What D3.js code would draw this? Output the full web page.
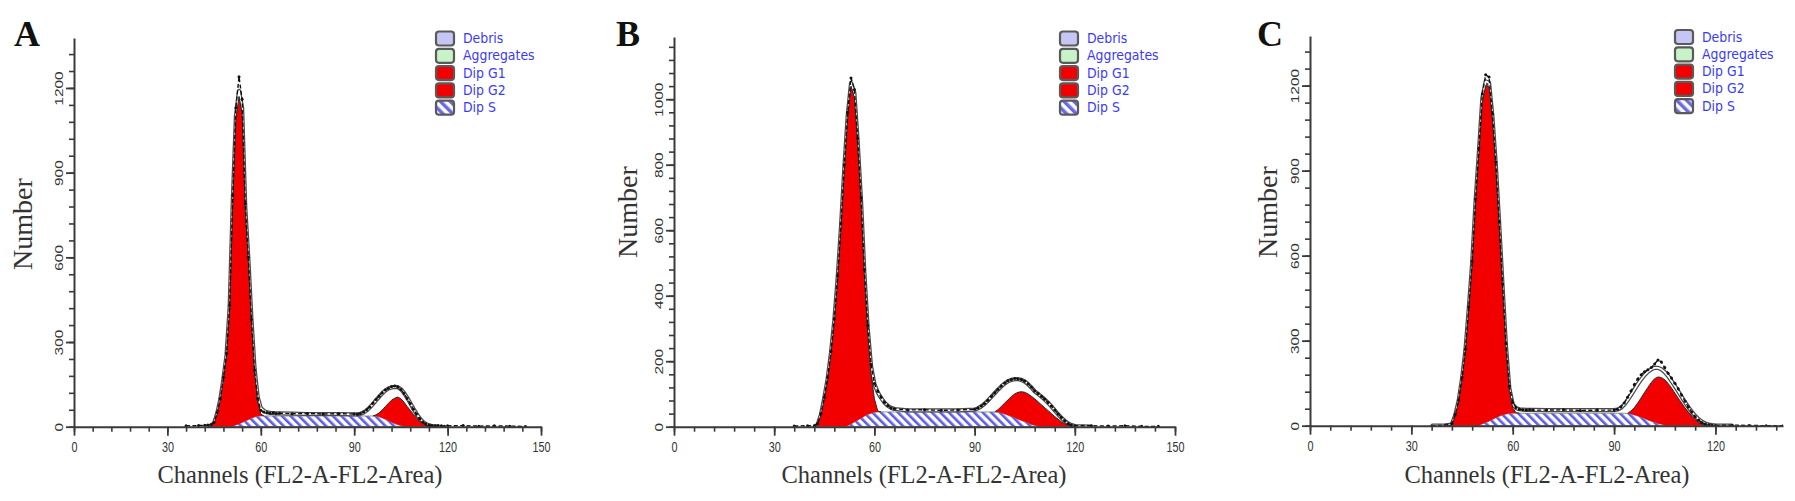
<!DOCTYPE html>
<html><head><meta charset="utf-8">
<script src="https://cdn.jsdelivr.net/npm/d3@7"></script>
<style>body{margin:0;background:#fff}svg{display:block}</style>
</head><body>
<svg id="c" width="1795" height="501"></svg>
<script>
// ---------------- DATA ----------------
const channels = [36,40,42,43,44,45,46,47,48,49,
 50,51,52,53,54,55,56,57,58,59,
 60,61,62,63,64,65,66,70,75,80,
 85,90,91,92,93,94,95,96,97,98,
 99,100,101,102,103,104,105,106,107,108,
 109,110,111,112,113,114,115,116,117,118,
 119,120,125,130,135,140,145];

const panelLetters = ["A","B","C"];
const legendLabels = ["Debris","Aggregates","Dip G1","Dip G2","Dip S"];
const xTickLabelsAB = [0,30,60,90,120,150];
const xTickLabelsC = [0,30,60,90,120];
const yTickLabelsA = [0,300,600,900,1200];
const yTickLabelsB = [0,200,400,600,800,1000];
const yTickLabelsC = [0,300,600,900,1200];
const xAxisTitle = "Channels (FL2-A-FL2-Area)";
const yAxisTitle = "Number";

// Panel A
const dataA = [3,4,5,6,8,15,50,100,175,260,
 430,820,1130,1240,1160,790,600,380,200,100,
 58,52,50,48,49,47,48,46,47,45,
 46,45,44,47,52,60,70,83,96,108,
 120,130,136,142,144,141,132,118,100,82,
 62,45,29,17,10,6,4,3,4,3,
 2,3,4,2,3,2,1];
const fitA = [0,0,0,0,3,13,47,97,170,255,
 425,800,1100,1190,1130,780,595,380,205,105,
 66,56,51,49,48,47,47,46,45,45,
 45,44,44,46,50,58,68,80,93,106,
 118,128,135,139,141,140,133,120,103,84,
 64,46,30,18,10,5,2,1,0,0,
 0,0,0,0,0,0,0];
const sA = [0,0,0,0,0,0,0,0,0,0,
 0,2,6,10,15,20,25,30,34,37,
 38,38,38,38,38,38,38,38,38,38,
 38,38,38,38,38,38,38,38,37,35,
 31,26,21,16,11,7,4,2,0,0,
 0,0,0,0,0,0,0,0,0,0,
 0,0,0,0,0,0,0];
const g1A = [0,0,0,0,3,12,45,95,168,250,
 415,788,1084,1160,1095,750,560,340,158,53,
 7,0,0,0,0,0,0,0,0,0,
 0,0,0,0,0,0,0,0,0,0,
 0,0,0,0,0,0,0,0,0,0,
 0,0,0,0,0,0,0,0,0,0,
 0,0,0,0,0,0,0];
const g2A = [0,0,0,0,0,0,0,0,0,0,
 0,0,0,0,0,0,0,0,0,0,
 0,0,0,0,0,0,0,0,0,0,
 0,0,0,0,0,0,0,0,5,14,
 28,45,62,78,90,98,95,85,72,58,
 44,31,20,12,6,3,1,0,0,0,
 0,0,0,0,0,0,0];

// Panel B
const dataB = [2,3,3,10,40,90,150,230,330,460,
 620,800,960,1065,1030,880,700,480,310,190,
 132,108,90,75,65,57,55,51,52,50,
 51,53,57,63,71,81,92,103,114,124,
 133,140,144,147,146,144,139,131,121,109,
 101,93,84,74,63,51,39,28,18,10,
 5,3,3,2,3,1,1];
const fitB = [0,0,0,6,37,88,147,226,325,455,
 612,790,950,1050,1020,870,690,470,300,185,
 130,105,88,74,64,58,54,50,50,50,
 50,52,56,62,70,80,91,102,113,123,
 132,139,143,145,145,143,138,130,120,108,
 100,92,83,73,62,50,38,27,18,10,
 5,2,0,0,0,0,0];
const sB = [0,0,0,0,0,0,0,0,0,0,
 0,0,3,8,14,20,26,32,37,41,
 44,45,45,45,45,45,45,45,45,45,
 45,45,45,45,45,45,45,45,44,42,
 39,35,31,27,23,19,15,11,7,4,
 2,0,0,0,0,0,0,0,0,0,
 0,0,0,0,0,0,0];
const g1B = [0,0,0,5,35,85,143,222,320,448,
 605,780,937,1032,991,840,654,428,248,119,
 41,3,0,0,0,0,0,0,0,0,
 0,0,0,0,0,0,0,0,0,0,
 0,0,0,0,0,0,0,0,0,0,
 0,0,0,0,0,0,0,0,0,0,
 0,0,0,0,0,0,0];
const g2B = [0,0,0,0,0,0,0,0,0,0,
 0,0,0,0,0,0,0,0,0,0,
 0,0,0,0,0,0,0,0,0,0,
 0,0,0,0,0,0,0,0,8,20,
 33,47,61,73,82,88,90,89,86,81,
 74,67,58,49,40,31,23,15,9,4,
 1,0,0,0,0,0,0];

// Panel C
const dataC = [0,1,8,40,90,170,270,420,580,800,
 980,1170,1238,1230,1100,930,720,500,290,140,
 82,64,58,56,55,56,55,55,56,54,
 55,55,58,66,80,100,122,145,165,180,
 190,197,205,218,232,225,205,185,168,150,
 130,108,86,66,48,32,20,11,6,3,
 2,1,2,1,0,0,0];
const fitC = [0,1,4,38,88,166,266,415,575,792,
 968,1155,1215,1210,1090,920,712,492,282,132,
 75,62,58,57,56,56,56,55,55,55,
 55,55,57,63,74,90,108,127,146,163,
 178,190,199,204,204,199,189,175,158,140,
 121,102,83,65,49,35,23,14,8,4,
 2,1,0,0,0,0,0];
const sC = [0,0,0,0,0,0,0,0,0,0,
 2,6,11,16,22,28,33,38,41,43,
 44,44,44,44,44,44,44,44,44,44,
 44,44,44,44,44,43,41,38,34,30,
 25,20,16,12,8,5,2,0,0,0,
 0,0,0,0,0,0,0,0,0,0,
 0,0,0,0,0,0,0];
const g1C = [0,0,3,35,85,162,262,410,570,785,
 958,1134,1189,1179,1058,882,672,447,234,82,
 18,2,0,0,0,0,0,0,0,0,
 0,0,0,0,0,0,0,0,0,0,
 0,0,0,0,0,0,0,0,0,0,
 0,0,0,0,0,0,0,0,0,0,
 0,0,0,0,0,0,0];
const g2C = [0,0,0,0,0,0,0,0,0,0,
 0,0,0,0,0,0,0,0,0,0,
 0,0,0,0,0,0,0,0,0,0,
 0,0,0,0,0,0,11,26,46,68,
 92,115,136,154,164,165,160,149,133,115,
 97,80,63,48,34,22,12,5,1,0,
 0,0,0,0,0,0,0];

// ---------------- LAYOUT ----------------
const layout = [
 {letter:panelLetters[0], data:dataA, fit:fitA, s:sA, g1:g1A, g2:g2A, xTicks:xTickLabelsAB, yTicks:yTickLabelsA,
  xDomain:[0,150], xRange:[74,541], yDomain:[0,1377], yRange:[426.7,38], xMinor:6, yMinor:60,
  letterX:14, numberX:32, numberY:224, titleX:300, legendX:436, legendY:38.5},
 {letter:panelLetters[1], data:dataB, fit:fitB, s:sB, g1:g1B, g2:g2B, xTicks:xTickLabelsAB, yTicks:yTickLabelsB,
  xDomain:[0,150], xRange:[674,1175], yDomain:[0,1190], yRange:[426.7,37], xMinor:6, yMinor:40,
  letterX:616, numberX:637, numberY:212, titleX:924, legendX:1060, legendY:38.5},
 {letter:panelLetters[2], data:dataC, fit:fitC, s:sC, g1:g1C, g2:g2C, xTicks:xTickLabelsC, yTicks:yTickLabelsC,
  xDomain:[0,140], xRange:[1310,1783], yDomain:[0,1375], yRange:[425.7,36], xMinor:6, yMinor:60,
  letterX:1257, numberX:1277, numberY:212, titleX:1547, legendX:1675, legendY:37}
];

const svg = d3.select("#c");
svg.append("rect").attr("width",1795).attr("height",501).attr("fill","#fff");
const defs = svg.append("defs");
const pat = defs.append("pattern").attr("id","hatch").attr("patternUnits","userSpaceOnUse")
  .attr("width",6).attr("height",6).attr("patternTransform","rotate(-45)");
pat.append("rect").attr("width",6).attr("height",6).attr("fill","#fff");
pat.append("rect").attr("width",2.6).attr("height",6).attr("fill","#5c5cec");
const pat2 = defs.append("pattern").attr("id","hatchL").attr("patternUnits","userSpaceOnUse")
  .attr("width",7).attr("height",7).attr("patternTransform","rotate(-45)");
pat2.append("rect").attr("width",7).attr("height",7).attr("fill","#fff");
pat2.append("rect").attr("width",3.5).attr("height",7).attr("fill","#6a6ae6");

const AX = "#3a3a3a";
const STRETCH = 1.43;

layout.forEach((p, pi) => {
  const g = svg.append("g");
  const x = d3.scaleLinear().domain(p.xDomain).range(p.xRange);
  const y = d3.scaleLinear().domain(p.yDomain).range(p.yRange);
  const pts = channels.map((c,i)=>({c, d:p.data[i], f:p.fit[i], s:p.s[i], g1:p.g1[i], g2:p.g2[i]}));

  const clipId = "clip"+pi;
  defs.append("clipPath").attr("id",clipId).append("rect")
    .attr("x",p.xRange[0]).attr("y",p.yRange[1]-5)
    .attr("width",p.xRange[1]-p.xRange[0]).attr("height",p.yRange[0]-p.yRange[1]+6);
  const plot = g.append("g").attr("clip-path",`url(#${clipId})`);

  // S phase hatched area
  const sPts = pts.filter((d,i)=> d.s>0 || (pts[i-1]&&pts[i-1].s>0) || (pts[i+1]&&pts[i+1].s>0));
  plot.append("path").datum(sPts)
    .attr("d", d3.area().x(d=>x(d.c)).y0(y(0)).y1(d=>y(d.s)))
    .attr("fill","url(#hatch)").attr("stroke","#777").attr("stroke-width",0.8);

  // fit (double line)
  const fitPts = pts.filter((d,i)=> d.f>0 || (pts[i-1]&&pts[i-1].f>0) || (pts[i+1]&&pts[i+1].f>0));
  const fitLine = d3.line().x(d=>x(d.c)).y(d=>y(d.f));
  plot.append("path").datum(fitPts).attr("d",fitLine).attr("fill","none")
    .attr("stroke","#4a4a4a").attr("stroke-width",4.2).attr("stroke-linejoin","round");
  plot.append("path").datum(fitPts).attr("d",fitLine).attr("fill","none")
    .attr("stroke","#fff").attr("stroke-width",1.7).attr("stroke-linejoin","round");

  // G1 and G2 red areas stacked on S
  ["g1","g2"].forEach(k=>{
    const sub = pts.filter((d,i)=> d[k]>0 || (pts[i-1]&&pts[i-1][k]>0) || (pts[i+1]&&pts[i+1][k]>0));
    plot.append("path").datum(sub)
      .attr("d", d3.area().x(d=>x(d.c)).y0(d=>y(d.s)).y1(d=>y(d.s+d[k])))
      .attr("fill","#f20000");
    plot.append("path").datum(sub)
      .attr("d", d3.line().x(d=>x(d.c)).y(d=>y(d.s+d[k])))
      .attr("fill","none").attr("stroke","#2a2a2a").attr("stroke-width",1);
  });

  // raw data
  plot.append("path").datum(pts)
    .attr("d", d3.line().x(d=>x(d.c)).y(d=>y(d.d)))
    .attr("fill","none").attr("stroke","#111").attr("stroke-width",1.4)
    .attr("stroke-dasharray","4,2.4");
  plot.selectAll("circle.pt").data(pts).enter().append("circle")
    .attr("cx",d=>x(d.c)).attr("cy",d=>y(d.d)).attr("r",1.5).attr("fill","#111");

  // axes: minor ticks
  const xMinorVals = d3.range(0, p.xDomain[1]+0.001, p.xMinor);
  const yMinorVals = d3.range(0, p.yDomain[1], p.yMinor);
  g.append("g").attr("transform",`translate(0,${p.yRange[0]})`)
    .call(d3.axisBottom(x).tickValues(xMinorVals).tickSize(5).tickSizeOuter(0).tickFormat(""))
    .call(a=>a.select(".domain").remove())
    .call(a=>a.selectAll("line").attr("stroke",AX).attr("stroke-width",1.6));
  g.append("g").attr("transform",`translate(${p.xRange[0]},0)`)
    .call(d3.axisLeft(y).tickValues(yMinorVals).tickSize(5).tickSizeOuter(0).tickFormat(""))
    .call(a=>a.select(".domain").remove())
    .call(a=>a.selectAll("line").attr("stroke",AX).attr("stroke-width",1.6));

  // major x axis
  const xa = g.append("g").attr("transform",`translate(0,${p.yRange[0]})`)
    .call(d3.axisBottom(x).tickValues(p.xTicks).tickSize(9).tickSizeOuter(0).tickPadding(1.3).tickFormat(d3.format("d")));
  xa.select(".domain").attr("stroke",AX).attr("stroke-width",2);
  xa.selectAll("line").attr("stroke",AX).attr("stroke-width",1.8);
  xa.selectAll("text").attr("fill","#333").attr("font-family","'Liberation Sans', Arial, sans-serif")
    .attr("font-size",10.8).attr("transform",`scale(1,${STRETCH})`);

  // major y axis
  const ya = g.append("g").attr("transform",`translate(${p.xRange[0]},0)`)
    .call(d3.axisLeft(y).tickValues(p.yTicks).tickSize(8).tickSizeOuter(0).tickFormat(d3.format("d")));
  ya.select(".domain").attr("stroke",AX).attr("stroke-width",2);
  ya.selectAll("line").attr("stroke",AX).attr("stroke-width",1.8);
  ya.selectAll("text").attr("x",null).attr("dy",null).attr("text-anchor","middle")
    .attr("fill","#333").attr("font-family","'Liberation Sans', Arial, sans-serif").attr("font-size",10.8)
    .attr("transform",`translate(-11.5,0) scale(1,${STRETCH}) rotate(-90)`);

  // titles
  g.append("text").attr("x",p.letterX).attr("y",46).text(p.letter)
    .attr("font-family","'Liberation Serif','Times New Roman',serif").attr("font-weight","bold")
    .attr("font-size",36).attr("fill","#111");
  g.append("text").attr("transform",`translate(${p.numberX},${p.numberY}) rotate(-90)`)
    .attr("text-anchor","middle").text(yAxisTitle)
    .attr("font-family","'Liberation Serif','Times New Roman',serif").attr("font-size",28).attr("fill","#333");
  g.append("text").attr("x",p.titleX).attr("y",483).attr("text-anchor","middle").text(xAxisTitle)
    .attr("font-family","'Liberation Serif','Times New Roman',serif").attr("font-size",24.5).attr("fill","#333");

  // legend
  const fills = ["#c6c6f4","#c8f2c8","#f20000","#f20000","url(#hatchL)"];
  const lg = g.append("g");
  legendLabels.forEach((lab,i)=>{
    const cy = p.legendY + i*17.3;
    lg.append("rect").attr("x",p.legendX).attr("y",cy-7).attr("width",18).attr("height",14)
      .attr("rx",3).attr("fill",fills[i]).attr("stroke","#5a5a5a").attr("stroke-width",2.2);
    lg.append("text").attr("transform",`translate(${p.legendX+27},${cy+4.5}) scale(1,1.1)`)
      .text(lab).attr("font-family","'DejaVu Sans', Verdana, sans-serif").attr("font-size",12.5)
      .attr("fill","#3b3bf5");
  });
});
</script>
</body></html>
